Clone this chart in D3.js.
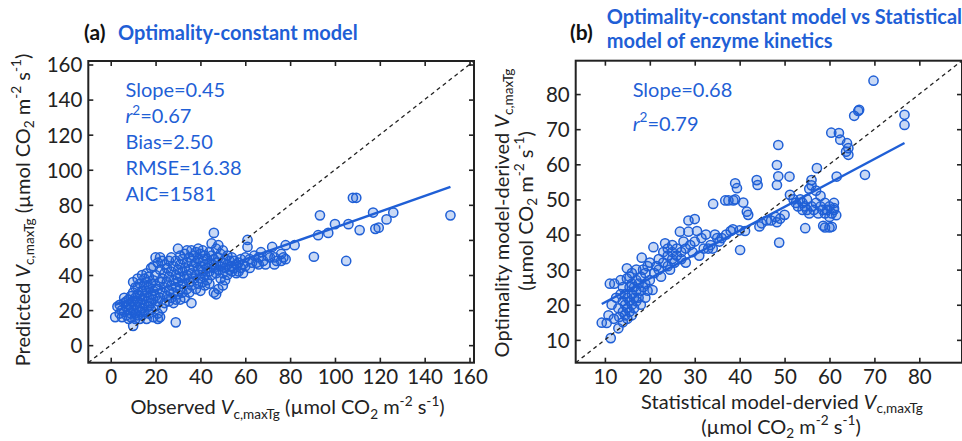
<!DOCTYPE html>
<html><head><meta charset="utf-8">
<script src="https://cdn.jsdelivr.net/npm/d3@7"></script>
<style>
body{margin:0;background:#fff}
svg{display:block}
text{font-family:Lato,"Open Sans",sans-serif}
</style>
</head><body>
<svg id="chart" width="962" height="441"></svg>
<script>
// ---------------- DATA ----------------
// Panel (a): [observed, predicted]
const panelAPoints = [
[2,16],[3,22],[4,23],[4,18],[5,20],[5,16],[6,24],[6,19],[6,27],[7,22],[7,17],[7,25],[8,20],[8,26],[8,15],[8,23],
[9,18],[9,22],[9,28],[9,16],[10,11],[10,36],[10,20],[10,25],[10,30],[11,18],[11,23],[11,27],[11,33],[11,15],
[12,38],[12,21],[12,25],[12,29],[12,17],[12,33],
[13,19],[13,24],[13,28],[13,35],[13,15],[14,21],[14,26],[14,31],[14,40],[14,17],[15,23],[15,28],[15,34],[15,38],[15,19],
[16,25],[16,30],[16,36],[16,41],[16,15],[17,22],[17,27],[17,33],[17,39],[17,18],[18,24],[18,29],[18,35],[18,44],[18,20],
[19,26],[19,31],[19,37],[19,45],[19,16],[20,22],[20,28],[20,34],[20,40],[20,50],[21,18],[21,25],[21,32],[21,47],[21,15],
[22,16],[22,27],[22,36],[22,43],[22,50],[23,21],[23,30],[23,38],[23,48],
[24,24],[24,33],[24,41],[24,46],[25,28],[25,36],[25,44],[26,25],[26,31],[26,39],[26,48],[27,27],[27,34],[27,42],[27,50],
[28,24],[28,30],[28,37],[28,45],[29,13],[29,26],[29,33],[29,40],[29,48],[30,29],[30,36],[30,43],[30,55],
[31,26],[31,32],[31,39],[31,46],[31,51],[32,30],[32,35],[32,42],[32,49],[33,27],[33,38],[33,44],[33,52],
[34,32],[34,40],[34,47],[34,54],[35,30],[35,36],[35,43],[35,50],
[36,24],[36,34],[36,41],[36,48],[36,54],[37,38],[37,45],[37,51],[38,32],[38,40],[38,47],[38,53],[39,35],[39,43],[39,49],[39,55],
[40,31],[40,38],[40,45],[40,52],[41,36],[41,42],[41,48],[41,54],[42,34],[42,40],[42,46],[42,51],[43,37],[43,44],[43,49],
[44,35],[44,42],[44,47],[44,53],[45,40],[45,46],[45,58],[45,51],
[46,30],[46,64],[46,44],[46,49],[47,29],[47,41],[47,47],[47,55],[48,32],[48,43],[48,50],[48,57],[49,38],[49,45],[49,52],
[50,34],[50,41],[50,47],[50,54],[51,37],[51,44],[51,49],[52,40],[52,46],[52,51],[53,43],[53,48],[54,42],[54,45],[54,50],
[55,44],[55,48],[56,41],[56,46],[57,42],[57,47],[58,44],[58,49],[59,41],[59,46],[60,45],[60,50],
[61,56],[61,60],[62,44],[62,49],[63,47],[64,51],[65,47],[66,46],[66,50],[67,53],[68,48],[69,46],[70,51],[71,50],[72,56],
[73,46],[73,50],[74,48],[76,52],[76,48],[77,50],[78,57],[78,49],[82,57],
[90.6,50.4],[92.5,62.7],[93.3,74],[97,64],[100,69],[105,48],[106,69],[108,84],[109.5,84],[111,65.6],[117,75.6],
[118,66.3],[119.5,67],[123,71.7],[126,75.6],[151.5,74]
];
// Panel (b): [statistical model, optimality model]
const panelBPoints = [
[9.3,14.9],[10.4,14.8],[10.8,17],[11.3,10.5],[11.1,26],[12.1,26],[11.5,20],[12,16],[12.5,22],[13,13.3],[13.2,16.5],[13,19],
[13.5,23],[13.5,27],[14,15],[14,18],[14,21],[14,25],[14.5,17],[14.5,20],[14.5,23],[14.9,27.5],[14.9,30.4],[15,16],[15,19],
[15,22],[15.5,18],[15.5,21],[15.5,25],[15.5,28],[16,17],[16,20],[16,23],[16,26],[16,29],[16.5,19],[16.5,22],[16.5,25],
[17,21],[17,24],[17,27],[17,30],[17.5,22],[17.5,26],[18,20],[18,24],[18,28],[18.2,33.4],[18.5,25],[18.5,30],[19,22],
[19,26],[19,29],[19.5,24],[19.5,31],[20,27],[20.6,24.2],[20,32],[20.8,36.4],
[21,29],[21.5,31],[22,30],[22,33],[22.5,28],[23,32],[23,35],[23.4,37.5],[24,31],[24,34],[24,36],[24.5,30],[25,33],[25,35],
[25,37],[25.5,32],[26,34],[26,36],[26.7,40.8],[27,33],[27,35],[27.5,38],[28,32],[28,36],[28.6,40.8],[28.6,44],[29,37],
[29.5,35],[30,44.4],[30,38],[30.5,41],[31,34],[31.5,39],[32,36],[32.5,40],
[33,36],[33.5,37],[34,36],[34.1,48.7],[34.5,40],[35,39],[35.5,38],[36,39],[36.8,49.7],[37.5,49.7],[37,40],[38,41],
[38.6,49.7],[38.5,41.5],[39,54.6],[39.4,53.2],[39,50],[40,41.2],[40.1,35.6],[40.8,49.1],[41.2,41],[41.6,46.5],[41.9,45.6],
[43.8,55.5],[44,54.1],[44.4,42.3],[44.9,43.2],[46,44],[47,44],[48,45],[48.3,43.5],[48.6,65.5],[48.3,59.8],[48.6,56.6],
[48.3,54.1],[48.8,37.7],[49,44.5],[50,45.6],[51.1,56.5],[51.2,51.3],
[52,50],[52.5,49],[53,48],[53.5,50],[54,47],[54,49],[54.5,48],[54.6,41.8],[55,47],[55,50],[55.5,46],[55.5,53],[56,48],
[56,54],[56,55.5],[56.5,47],[57,49],[57,52.5],[57.2,58.9],[57.5,46],[58,48],[58,51],[58.6,42.5],[58.5,47],[59,42],[59,46],
[59,49],[59.5,47],[60,42],[60,45],[60,48],[60.5,42.2],[60.5,46],[61,47],[61,49],[61.5,45.5],[61.6,56.5],[61,47.5],
[60.4,69],[62.1,68.9],[62.4,67],[63.9,66],[64.2,64.6],[63.7,63.6],[64.2,62.7],[65.5,73.8],[66.6,75.5],[66.4,75.2],
[67.9,57],[69.8,83.8],[76.7,74.1],[76.7,71.2]
];
const ticksA = [0,20,40,60,80,100,120,140,160];
const ticksB = [10,20,30,40,50,60,70,80];
const domainA = [-10,162];
const domainB = [3.5,89.5];
// regression fits: [slope, intercept, xStart, xEnd]
const fitA = [0.45, 22, 2, 151.5];
const fitB = [0.68, 13.9, 9.3, 76.7];
const statsA = [["Slope","0.45"],["r2","0.67"],["Bias","2.50"],["RMSE","16.38"],["AIC","1581"]];
const statsB = [["Slope","0.68"],["r2","0.79"]];
const titleA = ["(a)","Optimality-constant model"];
const titleB = ["(b)","Optimality-constant model vs Statistical","model of enzyme kinetics"];

// ---------------- STYLE ----------------
const BLUE = "#1f5fd6", TXT = "#1f5fd6", INK = "#222";
const svg = d3.select("#chart");

function rich(sel, parts, fs){
  let cur = 0;
  parts.forEach(p=>{
    const s = p.sub ? 0.24*fs : p.sup ? -0.42*fs : 0;
    const ts = sel.append("tspan").text(p.t).attr("dy", (s-cur)||null);
    if(p.sub||p.sup) ts.attr("font-size", fs*0.68);
    if(p.it) ts.attr("font-style","italic");
    cur = s;
  });
  return sel;
}
const unitParts = [{t:"(µmol CO"},{t:"2",sub:1},{t:" m"},{t:"-2",sup:1},{t:" s"},{t:"-1",sup:1},{t:")"}];
const vParts = [{t:"V",it:1},{t:"c,maxTg",sub:1}];

function panel(cfg){
  const x = d3.scaleLinear().domain(cfg.domain).range(cfg.xr);
  const y = d3.scaleLinear().domain(cfg.domain).range(cfg.yr);
  const g = svg.append("g");
  const styleAxis = a => {
    a.select(".domain").remove();
    a.attr("font-size",null).attr("font-family",null).attr("color",INK);
    a.selectAll("line").attr("stroke-width",1.6);
    a.selectAll("text").attr("font-size",20.5).attr("fill","#222");
  };
  g.append("g").attr("transform",`translate(0,${cfg.yr[0]})`)
    .call(d3.axisBottom(x).tickValues(cfg.ticks).tickSize(-5).tickSizeOuter(0))
    .call(styleAxis).call(a=>a.selectAll("text").attr("y",21).attr("dy",null));
  g.append("g").attr("transform",`translate(0,${cfg.yr[1]})`)
    .call(d3.axisTop(x).tickValues(cfg.ticks).tickSize(-5).tickSizeOuter(0).tickFormat(""))
    .call(styleAxis);
  g.append("g").attr("transform",`translate(${cfg.xr[0]},0)`)
    .call(d3.axisLeft(y).tickValues(cfg.ticks).tickSize(-5).tickSizeOuter(0).tickPadding(6))
    .call(styleAxis).call(a=>a.selectAll("text").attr("dy","0.36em"));
  g.append("g").attr("transform",`translate(${cfg.xr[1]},0)`)
    .call(d3.axisRight(y).tickValues(cfg.ticks).tickSize(-5).tickSizeOuter(0).tickFormat(""))
    .call(styleAxis);
  g.append("g").selectAll("circle").data(cfg.points).join("circle")
    .attr("cx",d=>x(d[0])).attr("cy",d=>y(d[1])).attr("r",4.6)
    .attr("fill",BLUE).attr("fill-opacity",0.24)
    .attr("stroke",BLUE).attr("stroke-width",1.5);
  g.append("line").attr("x1",x(cfg.domain[0])).attr("y1",y(cfg.domain[0]))
    .attr("x2",x(cfg.domain[1])).attr("y2",y(cfg.domain[1]))
    .attr("stroke","#222").attr("stroke-width",1.3).attr("stroke-dasharray","4,3.5");
  const [m,b,x0,x1] = cfg.fit;
  g.append("line").attr("x1",x(x0)).attr("y1",y(m*x0+b)).attr("x2",x(x1)).attr("y2",y(m*x1+b))
    .attr("stroke",BLUE).attr("stroke-width",2.4);
  g.append("rect").attr("x",cfg.xr[0]).attr("y",cfg.yr[1])
    .attr("width",cfg.xr[1]-cfg.xr[0]).attr("height",cfg.yr[0]-cfg.yr[1])
    .attr("fill","none").attr("stroke",INK).attr("stroke-width",2);
  cfg.stats.forEach((s,i)=>{
    const t = g.append("text").attr("x",cfg.statX).attr("y",cfg.statY+i*cfg.statDy)
      .attr("font-size",20).attr("fill",TXT);
    if(s[0]==="r2") rich(t,[{t:"r",it:1},{t:"2",sup:1},{t:"="+s[1]}],20);
    else t.text(s[0]+"="+s[1]);
  });
  return g;
}

panel({domain:domainA, xr:[88.3,474], yr:[362.7,61], ticks:ticksA, points:panelAPoints, fit:fitA,
  stats:statsA, statX:125.5, statY:97.3, statDy:25.9});
panel({domain:domainB, xr:[575.7,962], yr:[362.7,60.7], ticks:ticksB, points:panelBPoints, fit:fitB,
  stats:statsB, statX:632.7, statY:97.3, statDy:33.5});

const TFS = 20;
svg.append("text").attr("x",84).attr("y",40).attr("font-size",TFS+1).attr("font-weight","bold").attr("fill","#111").text(titleA[0]);
svg.append("text").attr("x",118).attr("y",40).attr("font-size",TFS).attr("font-weight","bold").attr("fill",TXT).text(titleA[1]);
svg.append("text").attr("x",570).attr("y",39.5).attr("font-size",TFS+1).attr("font-weight","bold").attr("fill","#111").text(titleB[0]);
svg.append("text").attr("x",606.7).attr("y",24).attr("font-size",TFS).attr("font-weight","bold").attr("fill",TXT).text(titleB[1]);
svg.append("text").attr("x",606.7).attr("y",48).attr("font-size",TFS).attr("font-weight","bold").attr("fill",TXT).text(titleB[2]);

const LFS = 20;
rich(svg.append("text").attr("x",287.5).attr("y",414).attr("text-anchor","middle").attr("font-size",LFS).attr("fill","#222"),
  [{t:"Observed "},...vParts,{t:" "},...unitParts],LFS);
rich(svg.append("text").attr("transform","translate(29.5,210) rotate(-90)").attr("text-anchor","middle").attr("font-size",LFS).attr("fill","#222"),
  [{t:"Predicted "},...vParts,{t:" "},...unitParts],LFS);
rich(svg.append("text").attr("x",782).attr("y",408.5).attr("text-anchor","middle").attr("font-size",LFS).attr("fill","#222"),
  [{t:"Statistical model-dervied "},...vParts],LFS);
rich(svg.append("text").attr("x",781).attr("y",433.5).attr("text-anchor","middle").attr("font-size",LFS).attr("fill","#222"),
  unitParts,LFS);
rich(svg.append("text").attr("transform","translate(508.5,213) rotate(-90)").attr("text-anchor","middle").attr("font-size",LFS).attr("fill","#222"),
  [{t:"Optimality model-derived "},...vParts],LFS);
rich(svg.append("text").attr("transform","translate(532.5,211) rotate(-90)").attr("text-anchor","middle").attr("font-size",LFS).attr("fill","#222"),
  unitParts,LFS);
</script>
</body></html>
